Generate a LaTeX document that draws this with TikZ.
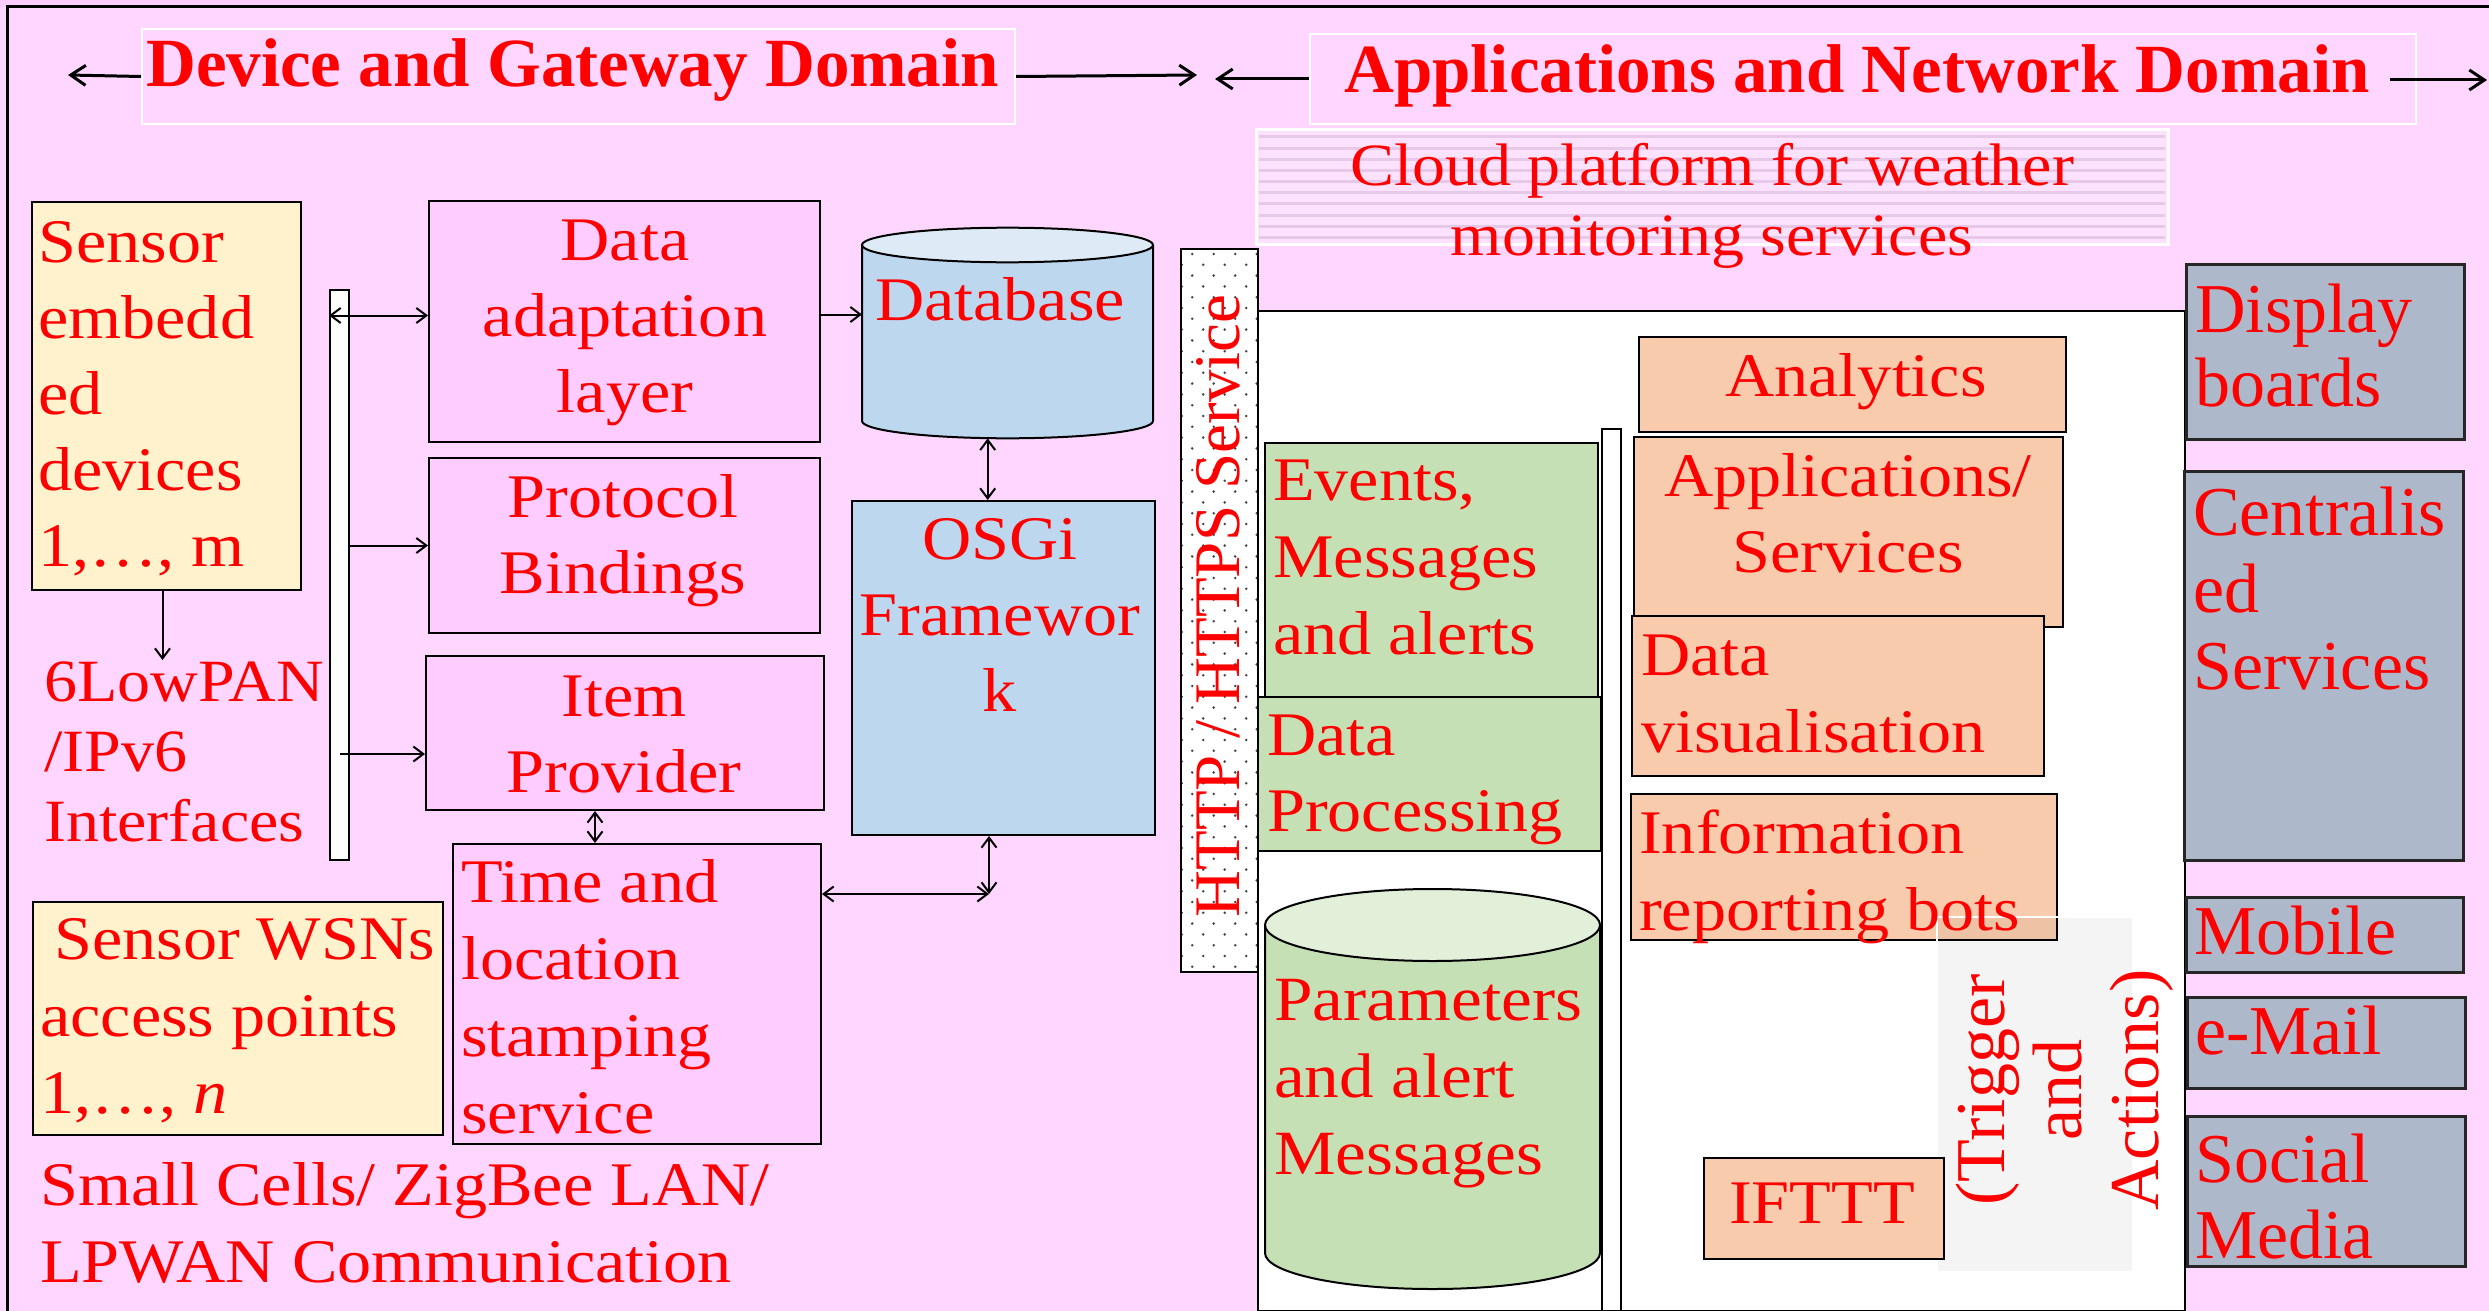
\documentclass[tikz,border=0pt]{standalone}
\usepackage{fontspec}
\setmainfont[FakeStretch=1.1]{Liberation Serif}
\newfontfamily\plainserif{Liberation Serif}
\usetikzlibrary{arrows.meta}

\definecolor{bgc}{RGB}{255,214,255}
\definecolor{stripc}{RGB}{255,204,255}
\definecolor{pinkbox}{RGB}{255,204,255}
\definecolor{sensorc}{RGB}{255,242,204}
\definecolor{bluec}{RGB}{189,215,238}
\definecolor{bluetop}{RGB}{222,235,247}
\definecolor{greenc}{RGB}{197,224,180}
\definecolor{greentop}{RGB}{226,240,217}
\definecolor{orangec}{RGB}{248,203,173}
\definecolor{slatec}{RGB}{173,185,202}
\definecolor{cloudc}{RGB}{252,226,252}
\definecolor{cloudline}{RGB}{232,200,232}
\definecolor{dotc}{RGB}{70,70,70}
\definecolor{redc}{RGB}{255,0,0}

\newcommand{\firstlinestrut}{\rule{0pt}{53pt}}

\begin{document}
\begin{tikzpicture}[x=1pt,y=1pt,
  box/.style={draw=black, line width=2pt, inner sep=0pt, anchor=north west},
  rbox/.style={draw=black!85, line width=3pt, fill=slatec, inner sep=0pt, anchor=north west},
  body/.style={text=redc, inner sep=0pt, font=\fontsize{62}{76}\selectfont},
  wide/.style={text=redc, inner sep=0pt, font=\plainserif\fontsize{70}{76}\selectfont},
  titletxt/.style={text=redc, inner sep=0pt, font=\plainserif\bfseries\fontsize{69}{80}\selectfont},
  lt/.style={anchor=north west, align=left},
  ct/.style={anchor=north, align=center},
  conn/.style={line width=2pt, >={Straight Barb[length=10pt,width=15pt]}},
  tconn/.style={line width=3pt, >={Straight Barb[length=15pt,width=20pt]}}
]
\useasboundingbox (0,0) rectangle (2489,-1311);
\fill[bgc] (0,0) rectangle (2489,-1311);
\fill[stripc] (0,0) rectangle (2489,-7);
\draw[line width=3pt] (7,-1311) -- (7,-7) -- (2489,-7);

% domain titles
\node[draw=white, line width=2pt, inner sep=0pt, anchor=north west, minimum width=873, minimum height=95] (devbox) at (141,-28) {};
\node[draw=white, line width=2pt, inner sep=0pt, anchor=north west, minimum width=1106, minimum height=90] (appbox) at (1309,-33) {};
\node[titletxt, anchor=base west] (devtitle) at (146,-87) {Device and Gateway Domain};
\node[titletxt, anchor=base west] (apptitle) at (1344,-93) {Applications and Network Domain};
\coordinate (dgl) at (68,-75);
\coordinate (dgr) at (1197,-75);
\coordinate (anl) at (1215,-79);
\coordinate (anr0) at (2390,-80);
\coordinate (anr) at (2487,-80);
\draw[tconn,->] (devbox.west) -- (dgl);
\draw[tconn,->] (devbox.east) -- (dgr);
\draw[tconn,->] (appbox.west) -- (anl);
\draw[tconn,->] (anr0) -- (anr);

% cloud platform banner
\node[fill=cloudc, inner sep=0pt, anchor=north west, minimum width=912, minimum height=114] (cloudbox) at (1256,-130) {};
\foreach \k in {0,...,9}{
  \draw[cloudline, line width=3pt] (1259,{-137-11.15*\k}) -- (2165,{-137-11.15*\k});
}
\draw[white, line width=3pt] (cloudbox.north west) rectangle (cloudbox.south east);

% application area
\node[box, fill=white, minimum width=927, minimum height=1000] (apparea) at (1257,-310) {};
\node[box, fill=white, minimum width=77, minimum height=723] (http) at (1180,-248) {};
\begin{scope}
  \clip ([shift={(2,-2)}]http.north west) rectangle ([shift={(-2,2)}]http.south east);
  \foreach \r in {0,...,66}{
    \pgfmathsetmacro{\yy}{-254-10.8*\r}
    \pgfmathsetmacro{\xo}{mod(\r,2)==0 ? 10.5 : 0}
    \foreach \c in {0,...,3}{
      \fill[dotc] ({1181.7+\xo+21.5*\c},\yy) circle[radius=1.4];
    }
  }
\end{scope}
\node[box, fill=white, minimum width=19, minimum height=882] (midbar) at (1601,-428) {};

\node[box, fill=greenc, minimum width=333, minimum height=254] (events) at (1264,-442) {};
\node[box, fill=greenc, minimum width=343, minimum height=154] (proc) at (1257,-696) {};
\node[inner sep=0pt, anchor=north west, minimum width=335, minimum height=400] (params) at (1265,-889) {};
\fill[greenc] (1265,-925) -- (1265,-1253) arc[start angle=180, end angle=360, x radius=167.5, y radius=36] -- (1600,-925) -- cycle;
\draw[line width=2pt] (1265,-925) -- (1265,-1253) arc[start angle=180, end angle=360, x radius=167.5, y radius=36] -- (1600,-925);
\draw[line width=2pt, fill=greentop] (1432.5,-925) ellipse[x radius=167.5, y radius=36];

\node[box, fill=orangec, minimum width=427, minimum height=95] (analytics) at (1638,-336) {};
\node[box, fill=orangec, minimum width=429, minimum height=190] (apps) at (1633,-436) {};
\node[box, fill=orangec, minimum width=412, minimum height=160] (dviz) at (1631,-615) {};
\node[box, fill=orangec, minimum width=426, minimum height=146] (info) at (1630,-793) {};
\node[inner sep=0pt, anchor=north west, minimum width=196, minimum height=355, fill=black, fill opacity=0.045, draw=white, line width=2pt] (trig) at (1936,-916) {};
\node[box, fill=orangec, minimum width=240, minimum height=101] (ifttt) at (1703,-1157) {};

% output channels
\node[rbox, minimum width=278, minimum height=175] (display) at (2185,-263) {};
\node[rbox, minimum width=279, minimum height=389] (central) at (2183,-470) {};
\node[rbox, minimum width=277, minimum height=75] (mobile) at (2185,-896) {};
\node[rbox, minimum width=278, minimum height=91] (email) at (2186,-996) {};
\node[rbox, minimum width=278, minimum height=150] (social) at (2186,-1115) {};

% device and gateway side
\node[box, fill=sensorc, minimum width=269, minimum height=388] (sensor) at (31,-201) {};
\node[box, fill=sensorc, minimum width=410, minimum height=233] (wsn) at (32,-901) {};
\node[box, fill=white, minimum width=19, minimum height=570] (bar) at (329,-289) {};
\node[box, fill=pinkbox, minimum width=391, minimum height=241] (dal) at (428,-200) {};
\node[box, fill=pinkbox, minimum width=391, minimum height=175] (pb) at (428,-457) {};
\node[box, fill=pinkbox, minimum width=398, minimum height=154] (ip) at (425,-655) {};
\node[box, fill=pinkbox, minimum width=368, minimum height=300] (tls) at (452,-843) {};
\node[box, fill=bluec, minimum width=303, minimum height=334] (osgi) at (851,-500) {};
\node[inner sep=0pt, anchor=north west, minimum width=291, minimum height=210] (db) at (862,-228) {};
\fill[bluec] (862,-245) -- (862,-421) arc[start angle=180, end angle=360, x radius=145.5, y radius=17.3] -- (1153,-245) -- cycle;
\draw[line width=2pt] (862,-245) -- (862,-421) arc[start angle=180, end angle=360, x radius=145.5, y radius=17.3] -- (1153,-245);
\draw[line width=2pt, fill=bluetop] (1007.5,-245) ellipse[x radius=145.5, y radius=17.3];

% texts
\node[body, ct, font=\fontsize{60}{70}\selectfont] (cloudtxt) at (1712,-132) {\firstlinestrut Cloud platform for weather\\monitoring services};
\node[body, lt] (sensortxt) at (38,-209) {\firstlinestrut Sensor\\embedd\\ed\\devices\\1,…, m};
\node[body, ct] (daltxt) at (625,-207) {\firstlinestrut Data\\adaptation\\layer};
\node[body, ct] (pbtxt) at (623,-464) {\firstlinestrut Protocol\\Bindings};
\node[body, ct] (iptxt) at (624,-663) {\firstlinestrut Item\\Provider};
\node[body, anchor=base] (dbtxt) at (1000,-320) {Database};
\node[body, ct] (osgitxt) at (1000,-506) {\firstlinestrut OSGi\\Framewor\\k};
\node[body, lt, font=\fontsize{60}{70}\selectfont] (lowpantxt) at (44,-648) {\firstlinestrut 6LowPAN\\/IPv6\\Interfaces};
\node[body, lt, font=\fontsize{62}{77}\selectfont] (wsntxt) at (40,-906) {\firstlinestrut\hspace{14pt}Sensor WSNs\\access points\\1,…, \textit{n}};
\node[body, lt, font=\fontsize{62}{77}\selectfont] (tlstxt) at (461,-849) {\firstlinestrut Time and\\location\\stamping\\service};
\node[body, lt, font=\fontsize{62}{77}\selectfont] (smalltxt) at (40,-1152) {\firstlinestrut Small Cells/ ZigBee LAN/\\LPWAN Communication};
\node[body, anchor=base, rotate=90, font=\plainserif\fontsize{65}{76}\selectfont] (httptxt) at (1239,-606) {HTTP / HTTPS Service};
\node[body, lt, font=\fontsize{62}{77}\selectfont] (eventstxt) at (1273,-447) {\firstlinestrut Events,\\Messages\\and alerts};
\node[body, lt] (proctxt) at (1267,-702) {\firstlinestrut Data\\Processing};
\node[body, lt, font=\fontsize{63}{77}\selectfont] (paramtxt) at (1274,-967) {\firstlinestrut Parameters\\and alert\\Messages};
\node[body, anchor=base] (analyticstxt) at (1856,-396) {Analytics};
\node[body, ct] (appstxt) at (1848,-443) {\firstlinestrut Applications/\\Services};
\node[body, lt, font=\fontsize{62}{77}\selectfont] (dviztxt) at (1641,-622) {\firstlinestrut Data\\visualisation};
\node[body, lt, font=\fontsize{62}{77}\selectfont] (infotxt) at (1639,-800) {\firstlinestrut Information\\reporting bots};
\node[body, anchor=base] (iftttxt) at (1822,-1223) {IFTTT};
\node[wide, ct, rotate=90, font=\plainserif\fontsize{70}{77}\selectfont] (trigtxt) at (1951,-1090) {\firstlinestrut(Trigger\\and\\Actions)};
\node[wide, lt, font=\plainserif\fontsize{70}{74}\selectfont] (displaytxt) at (2195,-279) {\firstlinestrut Display\\boards};
\node[wide, lt, font=\plainserif\fontsize{70}{77}\selectfont] (centraltxt) at (2193,-482) {\firstlinestrut Centralis\\ed\\Services};
\node[wide, anchor=base west] (mobiletxt) at (2194,-954) {Mobile};
\node[wide, anchor=base west] (emailtxt) at (2195,-1054) {e-Mail};
\node[wide, lt] (socialtxt) at (2195,-1129) {\firstlinestrut Social\\Media};

% connectors
\draw[conn,<->] ([yshift=6pt]dal.west -| bar.west) -- ([yshift=6pt]dal.west);
\draw[conn,->] (bar.east |- pb.west) -- (pb.west);
\draw[conn,->] ([yshift=-21pt]ip.west -| bar.center) -- ([yshift=-21pt]ip.west);
\draw[conn,->] ([yshift=7pt]dal.east) -- ([yshift=7pt]dal.east -| db.west);
\draw[conn,<->] ([xshift=-20pt]db.south) -- ([xshift=-20pt]db.south |- osgi.north);
\coordinate (tcorner) at (989,-894);
\draw[conn,<->] (osgi.south -| tcorner) -- (tcorner);
\draw[conn,<->] (tls.east |- tcorner) -- (tcorner);
\coordinate (ipx) at (595,-826);
\draw[conn,<->] (ip.south -| ipx) -- (tls.north -| ipx);
\draw[conn,->] ([xshift=-4pt]sensor.south) -- ([xshift=-4pt,yshift=-12pt]sensor.south |- lowpantxt.north);
\end{tikzpicture}
\end{document}
